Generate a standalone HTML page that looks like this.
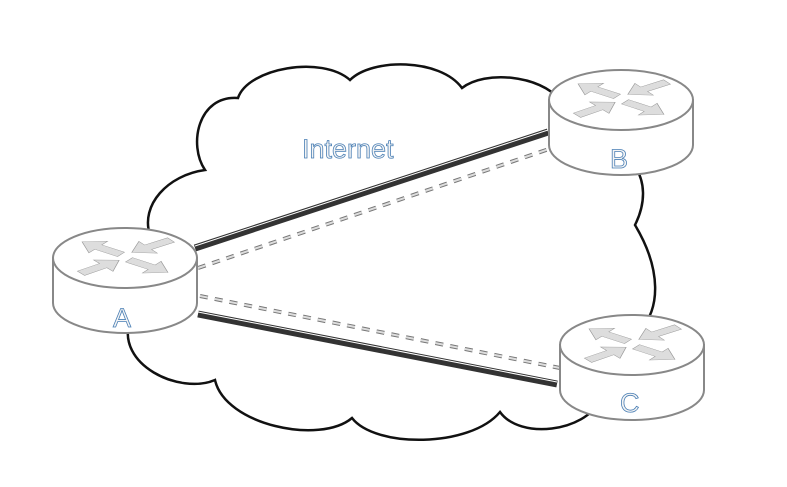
<!DOCTYPE html>
<html><head><style>body{margin:0;background:#fff}svg{display:block}</style></head><body>
<svg width="787" height="487" viewBox="0 0 787 487" xmlns="http://www.w3.org/2000/svg">
<rect width="787" height="487" fill="#fff"/>
<path d="M130,320 C115,365 180,395 215,380 C225,425 320,445 352,418 C375,448 470,448 500,412 C520,440 585,432 600,400 L640,330 C660,310 662,270 635,225 C645,205 648,180 630,160 L560,100 C540,75 485,70 462,88 C440,58 372,58 350,80 C322,55 248,68 238,98 C198,95 188,145 205,170 C168,175 140,205 150,235 Z" fill="#fff" stroke="#111" stroke-width="2.5"/>
<g stroke-linecap="butt">
<line x1="195" y1="248" x2="548" y2="132" stroke="#333" stroke-width="7"/>
<line x1="195" y1="246" x2="548" y2="130" stroke="#fff" stroke-width="1"/>
<line x1="198" y1="314" x2="557" y2="384" stroke="#333" stroke-width="7"/>
<line x1="198" y1="312" x2="557" y2="382" stroke="#fff" stroke-width="1"/>
<line x1="198" y1="268" x2="552" y2="148" stroke="#777" stroke-width="4" stroke-dasharray="8,7"/>
<line x1="198" y1="268" x2="552" y2="148" stroke="#ddd" stroke-width="2" stroke-dasharray="8,7"/>
<line x1="200" y1="296" x2="560" y2="368" stroke="#777" stroke-width="4" stroke-dasharray="8,7"/>
<line x1="200" y1="296" x2="560" y2="368" stroke="#ddd" stroke-width="2" stroke-dasharray="8,7"/>
</g>
<defs>
<polygon id="ar" points="0,-6 28,-6 28,-16 48,0 28,16 28,6 0,6" fill="#ddd" stroke="#999" stroke-width="0.8"/>
<g id="r">
<path d="M-72,0 L-72,45 A72,30 0 0 0 72,45 L72,0 Z" fill="#fff" stroke="#888" stroke-width="2"/>
<ellipse cx="0" cy="0" rx="72" ry="30" fill="#fff" stroke="#888" stroke-width="2"/>
<g transform="scale(1,0.45)">
<use href="#ar" transform="translate(-4,-8) rotate(215.8)"/>
<use href="#ar" transform="translate(46,-40) rotate(144.8)"/>
<use href="#ar" transform="translate(-44,34) rotate(-37.4)"/>
<use href="#ar" transform="translate(4,4) rotate(35.8)"/>
</g>
</g>
</defs>
<use href="#r" x="125" y="258"/>
<use href="#r" x="621" y="100"/>
<use href="#r" x="632" y="345"/>
<g font-family="Liberation Sans, sans-serif" fill="#f4f4f4" stroke="#4a7fb5" stroke-width="0.8">
<text x="302" y="158" font-size="27">Internet</text>
<text x="113" y="327" font-size="27">A</text>
<text x="610" y="168" font-size="27">B</text>
<text x="620" y="412" font-size="27">C</text>
</g>
</svg>
</body></html>
